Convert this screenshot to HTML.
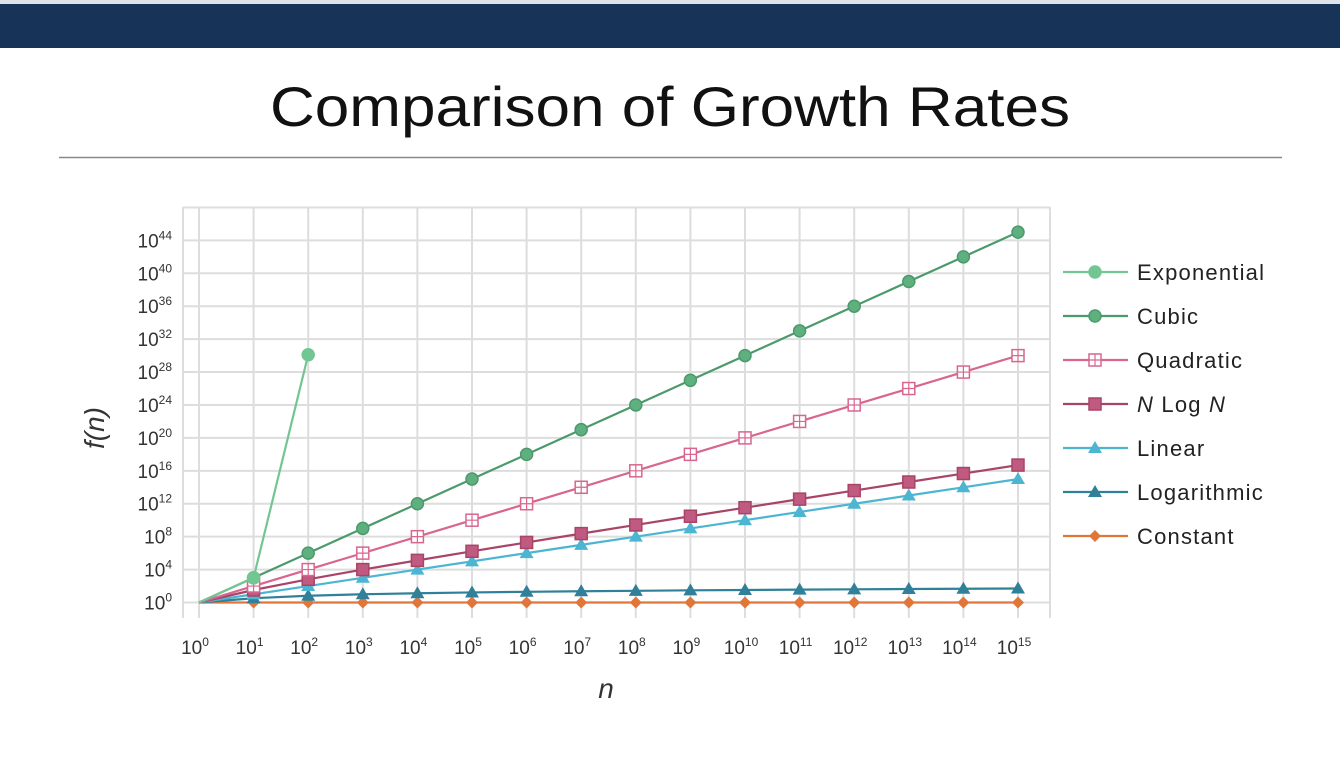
<!DOCTYPE html>
<html><head><meta charset="utf-8"><style>
html,body{margin:0;padding:0;background:#fff;width:1340px;height:766px;overflow:hidden;font-family:"Liberation Sans",sans-serif}
</style></head><body>
<svg width="1340" height="766" xmlns="http://www.w3.org/2000/svg">
<rect x="0" y="0" width="1340" height="4" fill="#dfe3ea"/>
<rect x="0" y="4" width="1340" height="44" fill="#183358"/>
<text x="670" y="126" text-anchor="middle" font-size="56" fill="#111" textLength="800" lengthAdjust="spacingAndGlyphs">Comparison of Growth Rates</text>
<line x1="59" y1="157.5" x2="1282" y2="157.5" stroke="#888" stroke-width="1.5"/>
<g id="chart"></g>
</svg>
<script>
const xExp = [0,1,2,3,4,5,6,7,8,9,10,11,12,13,14,15];
const yTicks = [0,4,8,12,16,20,24,28,32,36,40,44];
const exponential = [0,3.01,30.1];
const cubic = [0,3,6,9,12,15,18,21,24,27,30,33,36,39,42,45];
const quadratic = [0,2,4,6,8,10,12,14,16,18,20,22,24,26,28,30];
const nlogn = [0,1.52,2.82,4.0,5.12,6.22,7.30,8.37,9.42,10.48,11.52,12.56,13.60,14.64,15.67,16.70];
const linear = [0,1,2,3,4,5,6,7,8,9,10,11,12,13,14,15];
const logarithmic = [0,0.52,0.82,1.0,1.12,1.22,1.30,1.37,1.42,1.48,1.52,1.56,1.60,1.64,1.67,1.70];
const constant = [0,0,0,0,0,0,0,0,0,0,0,0,0,0,0,0];

const NS="http://www.w3.org/2000/svg";
const g=document.getElementById('chart');
const X=e=>199+e*54.6;
const Y=e=>602.5-e*8.23;
function el(t,a,p){const n=document.createElementNS(NS,t);for(const k in a)n.setAttribute(k,a[k]);(p||g).appendChild(n);return n;}

for(let i=0;i<=15;i++){
  const l=el('line',{x1:X(i),y1:207,x2:X(i),y2:618,stroke:'#ddd','stroke-width':2});
  
  
}
el('line',{x1:1050,y1:207,x2:1050,y2:618,stroke:'#ddd','stroke-width':2});
el('line',{x1:183,y1:207,x2:183,y2:618,stroke:'#ddd','stroke-width':2});
[48].concat(yTicks).forEach(v=>{
  const l=el('line',{x1:183,y1:Y(v),x2:1050,y2:Y(v),stroke:'#ddd','stroke-width':2});
  
  
});
yTicks.forEach(v=>{
  const t=el('text',{x:172,y:Y(v)+7,'text-anchor':'end','font-size':19,fill:'#333'});
  
  
  t.textContent='10';
  const s=el('tspan',{dy:-8,'font-size':12},t);s.textContent=v;
});
xExp.forEach(v=>{
  const t=el('text',{x:X(v)-4,y:654,'text-anchor':'middle','font-size':19,fill:'#333'});
  
  
  t.textContent='10';
  const s=el('tspan',{dy:-8,'font-size':12},t);s.textContent=v;
});
let t=el('text',{x:606,y:698,'text-anchor':'middle','font-size':28,'font-style':'italic',fill:'#333'});
t.textContent='n';
t=el('text',{x:0,y:0,'text-anchor':'middle','font-size':28,'font-style':'italic',fill:'#333',transform:'translate(104,428) rotate(-90)'});
t.textContent='f(n)';

function marker(type,cx,cy,col,parent){
  if(type==='circle') return el('circle',{cx,cy,r:6,fill:col.fill,stroke:col.line,'stroke-width':1.5},parent);
  if(type==='sqo'){const gg=el('g',{},parent);
    el('rect',{x:cx-6,y:cy-6,width:12,height:12,fill:'#fff',stroke:col.line,'stroke-width':1.5},gg);
    el('path',{d:`M${cx} ${cy-6}V${cy+6}M${cx-6} ${cy}H${cx+6}`,stroke:col.line,'stroke-width':1.2},gg);return gg;}
  if(type==='sq') return el('rect',{x:cx-6,y:cy-6,width:12,height:12,fill:col.fill,stroke:col.line,'stroke-width':1.5},parent);
  if(type==='tri') return el('path',{d:`M${cx} ${cy-7}L${cx+7} ${cy+5}L${cx-7} ${cy+5}Z`,fill:col.fill},parent);
  if(type==='dia') return el('path',{d:`M${cx} ${cy-6}L${cx+6} ${cy}L${cx} ${cy+6}L${cx-6} ${cy}Z`,fill:col.fill},parent);
}
const series=[
 {name:'Constant',data:constant,line:'#e0763a',fill:'#e0763a',m:'dia'},
 {name:'Logarithmic',data:logarithmic,line:'#2f8098',fill:'#2f8098',m:'tri'},
 {name:'Linear',data:linear,line:'#4cb6d2',fill:'#4cb6d2',m:'tri'},
 {name:'N Log N',data:nlogn,line:'#a84468',fill:'#c05a80',m:'sq'},
 {name:'Quadratic',data:quadratic,line:'#d8668f',fill:'#fff',m:'sqo'},
 {name:'Cubic',data:cubic,line:'#4c9a6c',fill:'#5fb07f',m:'circle'},
 {name:'Exponential',data:exponential,line:'#72c691',fill:'#72c691',m:'circle'}
];
series.forEach(s=>{
  const sg=el('g',{});
  
  
  el('polyline',{points:s.data.map((v,i)=>X(xExp[i])+','+Y(v)).join(' '),fill:'none',stroke:s.line,'stroke-width':2.2},sg);
  s.data.forEach((v,i)=>{ if(i===0) return;
    const m=marker(s.m,X(xExp[i]),Y(v),s,sg);
    
    
  });
});
const order=['Exponential','Cubic','Quadratic','N Log N','Linear','Logarithmic','Constant'];
order.forEach((n,i)=>{
  const s=series.find(q=>q.name===n);
  const y=272+i*44;
  const lg=el('g',{});
  
  
  el('line',{x1:1063,y1:y,x2:1128,y2:y,stroke:s.line,'stroke-width':2.2},lg);
  marker(s.m,1095,y,s,lg);
  const tx=el('text',{x:1137,y:y+8,'font-size':22,'letter-spacing':1.2,fill:'#222'},lg);
  if(n==='N Log N'){const a=el('tspan',{'font-style':'italic'},tx);a.textContent='N';
    const b=el('tspan',{},tx);b.textContent=' Log ';const c=el('tspan',{'font-style':'italic'},tx);c.textContent='N';}
  else tx.textContent=n;
});
</script>
</body></html>
